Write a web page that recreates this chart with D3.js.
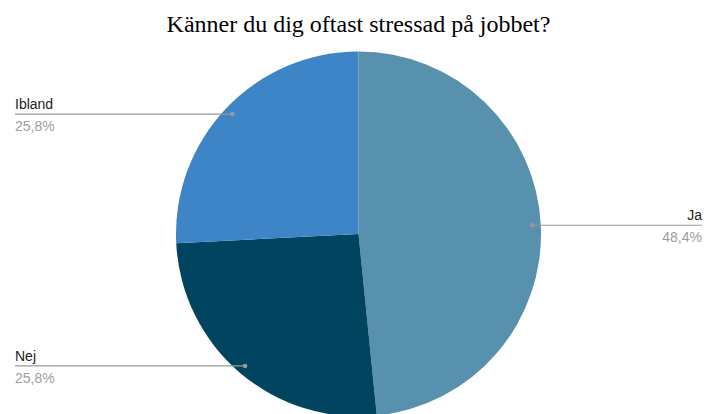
<!DOCTYPE html>
<html>
<head>
<meta charset="utf-8">
<script src="https://cdn.jsdelivr.net/npm/d3@7"></script>
<style>
  html, body { margin: 0; padding: 0; background: #fff; }
  svg { display: block; }
</style>
</head>
<body>
<svg id="chart" width="716" height="414"></svg>
<script>
// Survey answers, in drawing order (clockwise from 12 o'clock)
const categories = ["Ja", "Nej", "Ibland"];
const shares = [48.4, 25.8, 25.8];
const pctLabels = ["48,4%", "25,8%", "25,8%"];
const sliceColors = ["#5891ae", "#01445f", "#3d85c6"];

const W = 716, H = 414;
const cx = 358.5, cy = 234, R = 182.5;

const svg = d3.select("#chart");

svg.append("text")
  .attr("x", cx)
  .attr("y", 32)
  .attr("text-anchor", "middle")
  .attr("font-family", "'Liberation Serif', 'Times New Roman', serif")
  .attr("font-size", 24)
  .attr("fill", "#000")
  .text("Känner du dig oftast stressad på jobbet?");

const data = categories.map((c, i) => ({ name: c, value: shares[i], pct: pctLabels[i], color: sliceColors[i] }));

const pie = d3.pie().value(d => d.value).sort(null);
const arcs = pie(data);
const arc = d3.arc().innerRadius(0).outerRadius(R);
const dotArc = d3.arc().innerRadius(174).outerRadius(174);

const g = svg.append("g").attr("transform", `translate(${cx},${cy})`);

g.selectAll("path.slice")
  .data(arcs)
  .join("path")
  .attr("class", "slice")
  .attr("d", arc)
  .attr("fill", d => d.data.color);

// Leader lines and labels: right side for the right half, left side otherwise
const labelG = svg.append("g");
arcs.forEach(a => {
  const [dx, dy] = dotArc.centroid(a);
  const px = cx + dx, py = cy + dy;
  const right = px > cx;
  const endX = right ? 702 : 15;
  labelG.append("line")
    .attr("x1", px).attr("y1", py)
    .attr("x2", endX).attr("y2", py)
    .attr("stroke", "#999")
    .attr("stroke-width", 1.2);
  labelG.append("circle")
    .attr("cx", px).attr("cy", py).attr("r", 2.3)
    .attr("fill", "#999");
  labelG.append("text")
    .attr("x", endX)
    .attr("y", py - 5)
    .attr("text-anchor", right ? "end" : "start")
    .attr("font-family", "'Liberation Sans', Arial, sans-serif")
    .attr("font-size", 14)
    .attr("fill", "#222")
    .text(a.data.name);
  labelG.append("text")
    .attr("x", endX)
    .attr("y", py + 17)
    .attr("text-anchor", right ? "end" : "start")
    .attr("font-family", "'Liberation Sans', Arial, sans-serif")
    .attr("font-size", 14)
    .attr("fill", "#9e9e9e")
    .text(a.data.pct);
});
</script>
</body>
</html>
